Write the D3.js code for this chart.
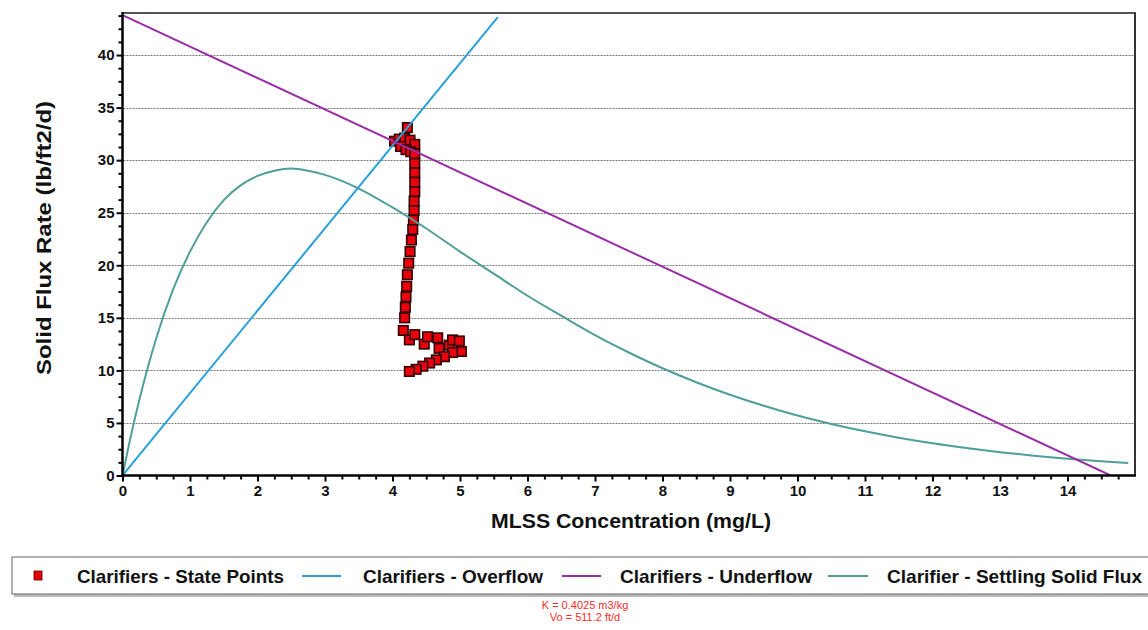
<!DOCTYPE html>
<html>
<head>
<meta charset="utf-8">
<script src="https://cdn.jsdelivr.net/npm/d3@7/dist/d3.min.js"></script>
<style>
  html, body { margin: 0; padding: 0; background: #fff; }
  svg { display: block; font-family: "Liberation Sans", Arial, sans-serif; }
</style>
</head>
<body>
<svg id="chart" width="1148" height="630"></svg>
<script>
// Clarifier state point analysis: MLSS concentration vs solids flux

// State points (MLSS, flux)
const stateX = [4.22, 4.03, 4.10, 4.18, 4.26, 4.33, 4.12, 4.20, 4.27, 4.33,
                4.33, 4.33, 4.33, 4.33, 4.32, 4.32, 4.31, 4.30, 4.28, 4.26,
                4.24, 4.22, 4.21, 4.20, 4.19, 4.18, 4.16,
                4.25, 4.33, 4.47, 4.52, 4.67, 4.69, 4.84, 4.89, 4.99, 5.02,
                4.89, 4.77, 4.65, 4.55, 4.45, 4.35, 4.25];
const stateY = [33.1, 31.8, 32.0, 32.1, 31.9, 31.5, 31.3, 31.0, 30.8, 30.6,
                29.7, 28.8, 27.9, 27.0, 26.1, 25.2, 24.3, 23.4, 22.4, 21.3,
                20.2, 19.1, 18.0, 17.0, 16.0, 15.0, 13.8,
                12.9, 13.4, 12.5, 13.2, 13.1, 12.1, 12.4, 12.9, 12.8, 11.8,
                11.7, 11.3, 11.0, 10.7, 10.4, 10.1, 9.9];

// Overflow and underflow operating lines (end points)
const overflowX = [0, 5.56];
const overflowY = [0, 43.6];
const underflowX = [0, 14.64];
const underflowY = [43.8, 0];

// Settling solids flux curve
const fluxX = [0, 0.1, 0.25, 0.5, 0.75, 1, 1.25, 1.5, 1.75, 2, 2.25, 2.5, 2.75, 3,
               3.5, 4, 4.5, 5, 5.5, 6, 6.5, 7, 7.5, 8, 8.5, 9, 9.5, 10, 10.5,
               11, 11.5, 12, 12.5, 13, 13.5, 14, 14.5, 14.9];
const fluxY = [0, 3.07, 7.2, 13.05, 17.7, 21.3, 24.1, 26.2, 27.6, 28.5, 29.0, 29.2, 29.0, 28.6,
               27.3, 25.5, 23.5, 21.3, 19.2, 17.1, 15.2, 13.35, 11.7, 10.2, 8.87, 7.68, 6.63, 5.7, 4.9,
               4.2, 3.59, 3.06, 2.61, 2.22, 1.88, 1.6, 1.35, 1.18];

// Axis ticks
const xTicks = [0, 1, 2, 3, 4, 5, 6, 7, 8, 9, 10, 11, 12, 13, 14];
const yTicks = [0, 5, 10, 15, 20, 25, 30, 35, 40];

const legendLabels = ["Clarifiers - State Points", "Clarifiers - Overflow",
                      "Clarifiers - Underflow", "Clarifier - Settling Solid Flux"];
const noteLines = ["K  = 0.4025 m3/kg", "Vo = 511.2 ft/d"];

const colors = { state: "#e8000b", overflow: "#2b9fd8", underflow: "#9a2ea6", flux: "#4f9e99" };

const svg = d3.select("#chart");
const plot = { left: 122.5, right: 1135, top: 13, bottom: 475.5 };

const x = d3.scaleLinear().domain([0, 15]).range([plot.left, plot.right]);
const y = d3.scaleLinear().domain([0, 44]).range([plot.bottom, plot.top]);

svg.append("defs").append("clipPath").attr("id", "plotClip")
  .append("rect")
  .attr("x", plot.left).attr("y", plot.top)
  .attr("width", plot.right - plot.left).attr("height", plot.bottom - plot.top);

// Horizontal dotted grid
svg.append("g")
  .selectAll("line")
  .data(yTicks.filter(d => d > 0))
  .join("line")
  .attr("x1", plot.left + 1).attr("x2", plot.right)
  .attr("y1", d => Math.round(y(d)) + 0.5).attr("y2", d => Math.round(y(d)) + 0.5)
  .attr("stroke", "#7a7a7a").attr("stroke-width", 1)
  .attr("stroke-dasharray", "2,1");

// Top and right frame
svg.append("line")
  .attr("x1", plot.left).attr("x2", plot.right + 1)
  .attr("y1", plot.top).attr("y2", plot.top)
  .attr("stroke", "#555").attr("stroke-width", 2);
svg.append("line")
  .attr("x1", plot.right).attr("x2", plot.right)
  .attr("y1", plot.top).attr("y2", plot.bottom)
  .attr("stroke", "#333").attr("stroke-width", 2);

const marks = svg.append("g").attr("clip-path", "url(#plotClip)");

// State points
const sq = 9.5;
marks.append("g")
  .selectAll("rect")
  .data(stateX.map((d, i) => [d, stateY[i]]))
  .join("rect")
  .attr("x", d => x(d[0]) - sq / 2).attr("y", d => y(d[1]) - sq / 2)
  .attr("width", sq).attr("height", sq)
  .attr("fill", colors.state)
  .attr("stroke", "#300000").attr("stroke-width", 1.6);

const line = d3.line().x(d => x(d[0])).y(d => y(d[1]));

marks.append("path")
  .datum(fluxX.map((d, i) => [d, fluxY[i]]))
  .attr("d", line.curve(d3.curveMonotoneX))
  .attr("fill", "none").attr("stroke", colors.flux).attr("stroke-width", 2);

marks.append("path")
  .datum(overflowX.map((d, i) => [d, overflowY[i]]))
  .attr("d", line.curve(d3.curveLinear))
  .attr("fill", "none").attr("stroke", colors.overflow).attr("stroke-width", 2);

marks.append("path")
  .datum(underflowX.map((d, i) => [d, underflowY[i]]))
  .attr("d", line.curve(d3.curveLinear))
  .attr("fill", "none").attr("stroke", colors.underflow).attr("stroke-width", 2);

// Axes
const xMinor = d3.range(0, 15.01, 0.25).filter(v => Math.abs(v - Math.round(v)) > 1e-6);
const yMinor = d3.range(0, 44, 1.25).filter(v => Math.abs(v / 5 - Math.round(v / 5)) > 1e-6);

function styleAxis(g) {
  g.select(".domain").remove();
  g.selectAll(".tick line").attr("stroke", "#000").attr("stroke-width", 2);
  g.selectAll(".tick text")
    .attr("fill", "#111").attr("font-size", 15).attr("font-weight", "bold")
    .attr("font-family", "'Liberation Sans', Arial, sans-serif");
}

svg.append("g")
  .attr("transform", `translate(0,${plot.bottom})`)
  .call(d3.axisBottom(x).tickValues(xMinor).tickSize(4).tickFormat(""))
  .call(styleAxis);
svg.append("g")
  .attr("transform", `translate(0,${plot.bottom})`)
  .call(d3.axisBottom(x).tickValues(xTicks).tickSize(6).tickPadding(4).tickFormat(d3.format("d")))
  .call(styleAxis);

svg.append("g")
  .attr("transform", `translate(${plot.left},0)`)
  .call(d3.axisLeft(y).tickValues(yMinor).tickSize(4).tickFormat(""))
  .call(styleAxis);
svg.append("g")
  .attr("transform", `translate(${plot.left},0)`)
  .call(d3.axisLeft(y).tickValues(yTicks).tickSize(6).tickPadding(2).tickFormat(d3.format("d")))
  .call(styleAxis);

// Axis lines
svg.append("line")
  .attr("x1", plot.left).attr("x2", plot.left)
  .attr("y1", plot.top - 1).attr("y2", plot.bottom + 1)
  .attr("stroke", "#000").attr("stroke-width", 2.5);
svg.append("line")
  .attr("x1", plot.left - 1).attr("x2", plot.right + 1)
  .attr("y1", plot.bottom).attr("y2", plot.bottom)
  .attr("stroke", "#000").attr("stroke-width", 2.5);

// Axis titles
svg.append("text")
  .attr("x", 631).attr("y", 528)
  .attr("text-anchor", "middle")
  .attr("font-size", 20).attr("font-weight", "bold").attr("fill", "#111")
  .attr("textLength", 280).attr("lengthAdjust", "spacingAndGlyphs")
  .text("MLSS Concentration (mg/L)");

svg.append("text")
  .attr("transform", "translate(51,238) rotate(-90)")
  .attr("text-anchor", "middle")
  .attr("font-size", 20).attr("font-weight", "bold").attr("fill", "#111")
  .attr("textLength", 274).attr("lengthAdjust", "spacingAndGlyphs")
  .text("Solid Flux Rate (lb/ft2/d)");

// Legend
const legend = svg.append("g");
legend.append("rect")
  .attr("x", 14).attr("y", 559).attr("width", 1140).attr("height", 38)
  .attr("fill", "#bbb");
legend.append("rect")
  .attr("x", 12).attr("y", 557).attr("width", 1140).attr("height", 37)
  .attr("fill", "#fff").attr("stroke", "#666").attr("stroke-width", 1);

const legendY = 576;
const legendItems = [
  { label: legendLabels[0], type: "square", color: colors.state, sx: 38, tx: 77, tw: 207 },
  { label: legendLabels[1], type: "line", color: colors.overflow, sx: [302, 341], tx: 363, tw: 180 },
  { label: legendLabels[2], type: "line", color: colors.underflow, sx: [562, 601], tx: 620, tw: 192 },
  { label: legendLabels[3], type: "line", color: colors.flux, sx: [828, 868], tx: 887, tw: 255 }
];
legendItems.forEach(it => {
  if (it.type === "square") {
    legend.append("rect")
      .attr("x", it.sx - 4).attr("y", legendY - 5).attr("width", 8).attr("height", 9)
      .attr("fill", it.color).attr("stroke", "#5a0000").attr("stroke-width", 0.8);
  } else {
    legend.append("line")
      .attr("x1", it.sx[0]).attr("x2", it.sx[1])
      .attr("y1", legendY).attr("y2", legendY)
      .attr("stroke", it.color).attr("stroke-width", 2);
  }
  legend.append("text")
    .attr("x", it.tx).attr("y", legendY + 7)
    .attr("font-size", 19).attr("font-weight", "bold").attr("fill", "#111")
    .attr("textLength", it.tw).attr("lengthAdjust", "spacingAndGlyphs")
    .text(it.label);
});

// Settling parameters note
svg.append("g")
  .selectAll("text")
  .data(noteLines)
  .join("text")
  .attr("x", 585).attr("y", (d, i) => 609 + i * 12)
  .attr("text-anchor", "middle")
  .attr("font-size", 11).attr("fill", "#ff2a2a")
  .text(d => d);
</script>
</body>
</html>
